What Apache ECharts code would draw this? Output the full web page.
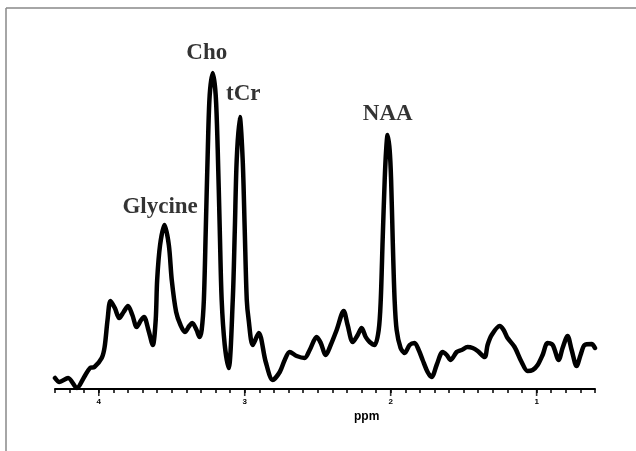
<!DOCTYPE html>
<html><head><meta charset="utf-8">
<script src="https://cdn.jsdelivr.net/npm/echarts@6/dist/echarts.min.js"></script>
<style>html,body{margin:0;padding:0;background:#fff}#c{width:636px;height:451px}</style>
</head><body><div id="c"></div>
<script>
// Chemical shift (ppm) and signal intensity (arbitrary units)
const ppm = [4.30,4.27,4.21,4.15,4.10,4.06,4.03,3.98,3.96,3.94,3.92,3.89,3.86,3.83,3.80,3.77,3.74,3.71,3.69,3.66,3.63,3.61,
  3.60,3.58,3.55,3.52,3.50,3.47,3.44,3.41,3.38,3.36,3.33,3.31,
  3.295,3.28,3.267,3.253,3.24,3.219,3.199,3.185,3.171,3.158,3.137,3.11,
  3.082,3.068,3.055,3.034,3.014,3.000,2.986,2.973,2.945,2.904,2.856,2.808,2.76,2.726,2.692,2.644,2.589,
  2.555,2.507,2.479,2.445,2.411,2.37,2.322,2.295,2.26,2.226,2.199,2.171,2.144,2.11,
  2.082,2.068,2.055,2.041,2.031,2.021,2.007,1.997,1.986,1.973,1.959,
  1.932,1.904,1.87,1.836,1.808,1.781,1.747,1.719,1.685,1.644,1.616,1.589,1.548,1.514,1.473,1.438,1.404,1.356,
  1.336,1.308,1.253,1.226,1.199,1.151,1.103,1.062,1.027,0.993,0.959,0.925,0.89,0.849,0.822,0.788,0.76,0.726,0.699,0.671,0.623,0.60];
const intensity = [11,7,11,1,12,21,22,31,42,69,88,81,71,77,83,74,62,69,72,59,44,69,
  109,144,164,144,109,77,64,57,63,66,59,52,
  59,89,159,239,294,316,294,239,159,89,44,21,
  89,159,229,272,229,159,89,69,44,56,27,9,17,29,37,33,31,
  39,52,46,34,44,59,78,64,47,54,61,52,47,44,
  59,89,149,209,239,254,239,209,149,89,59,
  41,36,44,46,39,29,17,12,24,37,34,29,37,39,42,41,38,32,
  44,54,63,59,51,42,27,18,19,24,34,46,44,29,41,53,39,23,34,44,45,41];
const majorTicks = [4,3,2,1];
const peakNames = ['Glycine','Cho','tCr','NAA'];
const peakLabelPpm = [3.58,3.26,3.01,2.02];
const peakLabelHeight = [182,336,295,275];

const chart = echarts.init(document.getElementById('c'), null, {renderer:'canvas'});
chart.setOption({
  animation:false,
  backgroundColor:'#fff',
  grid:{left:55,right:41,top:29,bottom:62},
  xAxis:{
    type:'value', inverse:true, min:0.6, max:4.3, interval:0.1,
    axisLine:{show:true,onZero:false,lineStyle:{color:'#000',width:2}},
    axisTick:{show:true,length:4,lineStyle:{color:'#000',width:1.5}},
    splitLine:{show:false},
    axisLabel:{
      margin:9, fontSize:8, fontWeight:'bold', color:'#000', fontFamily:'Liberation Sans',
      formatter:v => Math.abs(v-Math.round(v))<1e-6 ? String(Math.round(v)) : ''
    }
  },
  yAxis:{type:'value',min:0,max:360,show:false},
  graphic:[
    {type:'line',shape:{x1:6,y1:8,x2:636,y2:8},style:{stroke:'#888',lineWidth:1.5}},
    {type:'line',shape:{x1:6,y1:8,x2:6,y2:451},style:{stroke:'#888',lineWidth:1.5}},
    {type:'text',left:354,top:411,style:{text:'ppm',font:'bold 12px "Liberation Sans"',fill:'#000'}}
  ],
  series:[
    {
      type:'line', data:ppm.map((p,i)=>[p,intensity[i]]), showSymbol:false, symbol:'none',
      smooth:0.3, lineStyle:{color:'#000',width:4.5,cap:'round',join:'round'}, z:3
    },
    {
      type:'scatter', data:majorTicks.map(v=>[v,0]), symbol:'rect', symbolSize:[1.6,7],
      symbolOffset:[0,3.5], itemStyle:{color:'#000'}, clip:false, z:4, silent:true
    },
    {
      type:'scatter', data:peakNames.map((n,i)=>({name:n,value:[peakLabelPpm[i],peakLabelHeight[i]]})),
      symbolSize:1, itemStyle:{color:'rgba(0,0,0,0)'}, silent:true, z:5,
      label:{show:true,position:'inside',formatter:p=>p.name,color:'#000',
        fontFamily:'Liberation Serif',fontWeight:'bold',fontSize:23}
    }
  ]
});
</script>
</body></html>
